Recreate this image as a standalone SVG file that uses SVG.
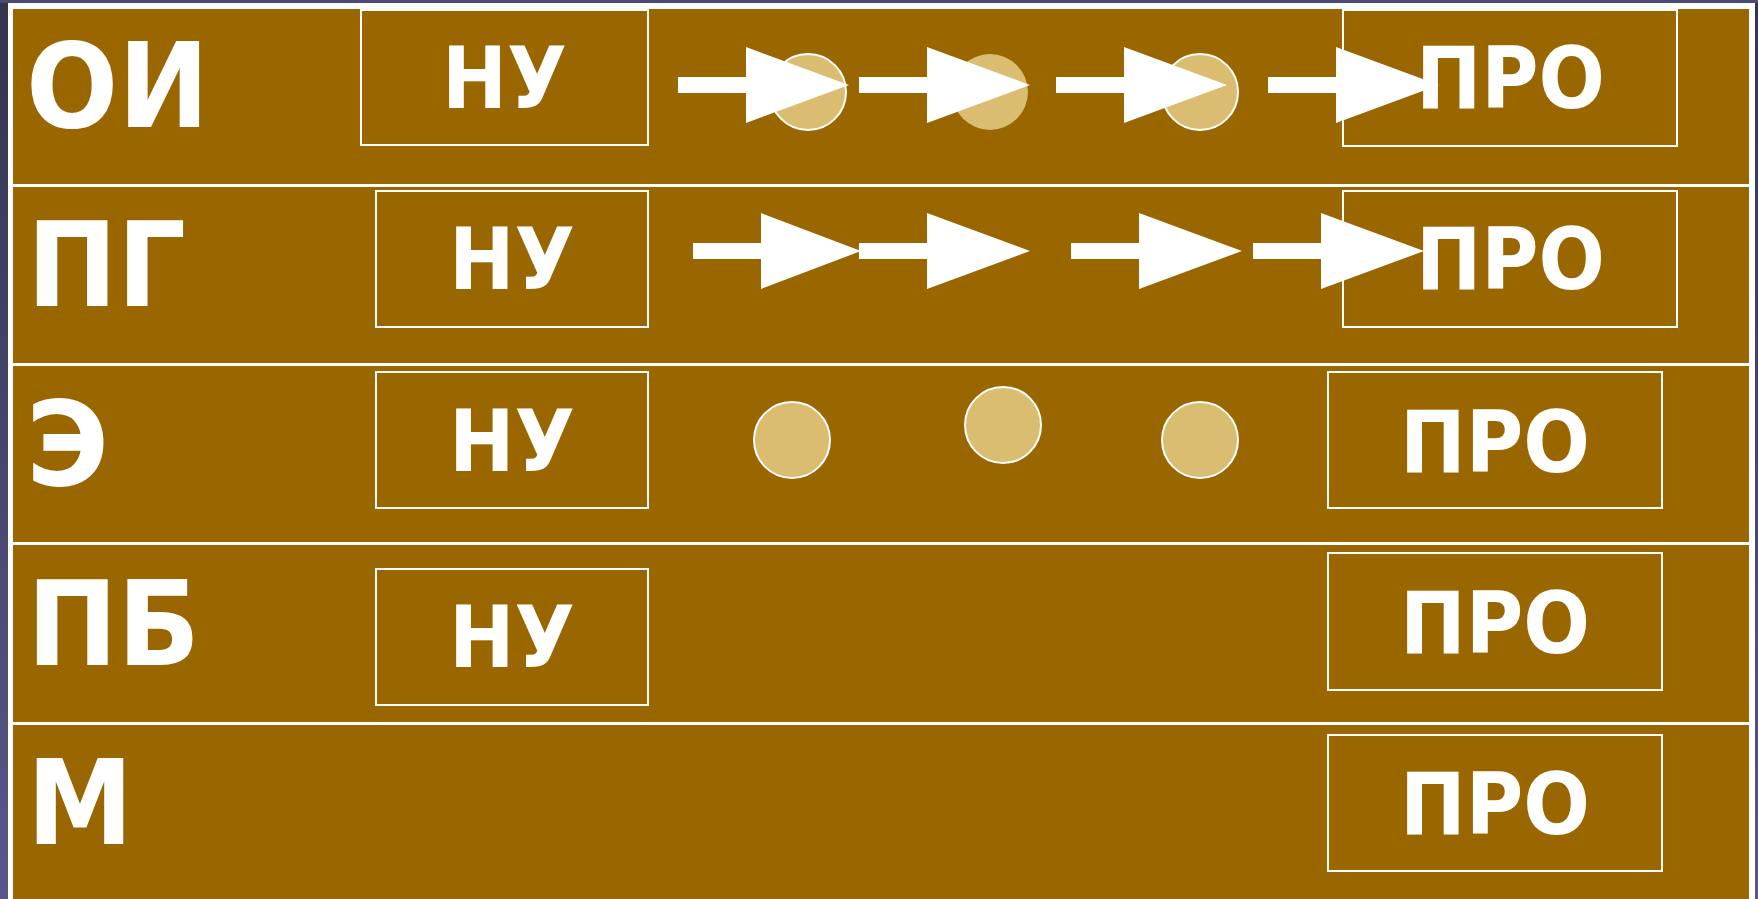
<svg xmlns="http://www.w3.org/2000/svg" width="1758" height="899" viewBox="0 0 1758 899">
  <defs>
    <linearGradient id="bgGrad" x1="0" y1="0" x2="0" y2="1">
      <stop offset="0" stop-color="#34344f"/>
      <stop offset="1" stop-color="#57578a"/>
    </linearGradient>
    <path id="arrowShape" d="M0,-8 H68 V-38 L171,0 L68,38 V8 H0 Z"/>
    <path id="arrowShapeB" d="M0,-8 H68 V-38 L168,0 L68,38 V8 H0 Z"/>
  </defs>
  <style>
    .row { fill: #996600; }
    .box { fill: none; stroke: #ffffff; stroke-width: 2; }
    .dot { fill: #dbbd72; stroke: #ffffff; stroke-width: 2; }
    .dot-plain { fill: #dbbd72; }
    .arrow { fill: #ffffff; }
    .lbl { font-family: 'DejaVu Sans Condensed', 'DejaVu Sans', sans-serif; font-weight: bold; font-stretch: condensed; fill: #ffffff; }
    .big { font-size: 117px; }
    .mid { font-size: 85px; }
  </style>

  <!-- background -->
  <rect x="0" y="0" width="1758" height="899" fill="url(#bgGrad)"/>
  <rect x="0" y="0" width="1758" height="3" fill="#4a4a72"/>
  <rect x="8" y="3" width="1747" height="896" fill="#ffffff"/>

  <!-- table rows -->
  <g id="rows">
    <rect class="row" x="13" y="9" width="1736" height="175"/>
    <rect class="row" x="13" y="187" width="1736" height="176"/>
    <rect class="row" x="13" y="366" width="1736" height="176"/>
    <rect class="row" x="13" y="545" width="1736" height="177"/>
    <rect class="row" x="13" y="725" width="1736" height="174"/>
  </g>

  <!-- row labels -->
  <g id="label-oi"><text class="lbl big" x="26" y="127" textLength="183" lengthAdjust="spacingAndGlyphs">ОИ</text></g>
  <g id="label-pg"><text class="lbl big" x="27" y="306" textLength="159" lengthAdjust="spacingAndGlyphs">ПГ</text></g>
  <g id="label-e"><text class="lbl big" x="26" y="485" textLength="83" lengthAdjust="spacingAndGlyphs">Э</text></g>
  <g id="label-pb"><text class="lbl big" x="27" y="665" textLength="173" lengthAdjust="spacingAndGlyphs">ПБ</text></g>
  <g id="label-m"><text class="lbl big" x="27" y="844" textLength="106" lengthAdjust="spacingAndGlyphs">М</text></g>

  <!-- НУ boxes -->
  <g id="nu-1"><rect class="box" x="361" y="10" width="287" height="135"/></g>
  <g id="nu-2"><rect class="box" x="376" y="191" width="272" height="136"/></g>
  <g id="nu-3"><rect class="box" x="376" y="372" width="272" height="136"/></g>
  <g id="nu-4"><rect class="box" x="376" y="569" width="272" height="136"/></g>

  <!-- ПРО boxes -->
  <g id="pro-1"><rect class="box" x="1343" y="10" width="334" height="136"/></g>
  <g id="pro-2"><rect class="box" x="1343" y="191" width="334" height="136"/></g>
  <g id="pro-3"><rect class="box" x="1328" y="372" width="334" height="136"/></g>
  <g id="pro-4"><rect class="box" x="1328" y="553" width="334" height="137"/></g>
  <g id="pro-5"><rect class="box" x="1328" y="735" width="334" height="136"/></g>

  <!-- circles -->
  <g id="circle-1-1"><circle class="dot" cx="808" cy="92" r="38"/></g>
  <g id="circle-1-2"><circle class="dot-plain" cx="990" cy="92" r="38"/></g>
  <g id="circle-1-3"><circle class="dot" cx="1200" cy="92" r="38"/></g>
  <g id="circle-3-1"><circle class="dot" cx="792" cy="440" r="38"/></g>
  <g id="circle-3-2"><circle class="dot" cx="1003" cy="425" r="38"/></g>
  <g id="circle-3-3"><circle class="dot" cx="1200" cy="440" r="38"/></g>

  <!-- connectors -->
  <g id="connectors" class="arrow">
    <use href="#arrowShape" x="678" y="85"/>
    <use href="#arrowShape" x="859" y="85"/>
    <use href="#arrowShape" x="1056" y="85"/>
    <use href="#arrowShape" x="1268" y="85"/>
    <use href="#arrowShapeB" x="693" y="251"/>
    <use href="#arrowShape" x="859" y="251"/>
    <use href="#arrowShape" x="1071" y="251"/>
    <use href="#arrowShape" x="1253" y="251"/>
  </g>

  <!-- box texts -->
  <g id="nu-texts">
    <text class="lbl mid" x="442" y="108" textLength="125" lengthAdjust="spacingAndGlyphs">НУ</text>
    <text class="lbl mid" x="449" y="289" textLength="126" lengthAdjust="spacingAndGlyphs">НУ</text>
    <text class="lbl mid" x="449" y="471" textLength="126" lengthAdjust="spacingAndGlyphs">НУ</text>
    <text class="lbl mid" x="449" y="667" textLength="126" lengthAdjust="spacingAndGlyphs">НУ</text>
  </g>
  <g id="pro-texts">
    <text class="lbl mid" x="1416" y="108" textLength="189" lengthAdjust="spacingAndGlyphs">ПРО</text>
    <text class="lbl mid" x="1416" y="289" textLength="189" lengthAdjust="spacingAndGlyphs">ПРО</text>
    <text class="lbl mid" x="1400" y="472" textLength="190" lengthAdjust="spacingAndGlyphs">ПРО</text>
    <text class="lbl mid" x="1400" y="653" textLength="190" lengthAdjust="spacingAndGlyphs">ПРО</text>
    <text class="lbl mid" x="1400" y="834" textLength="190" lengthAdjust="spacingAndGlyphs">ПРО</text>
  </g>
</svg>
